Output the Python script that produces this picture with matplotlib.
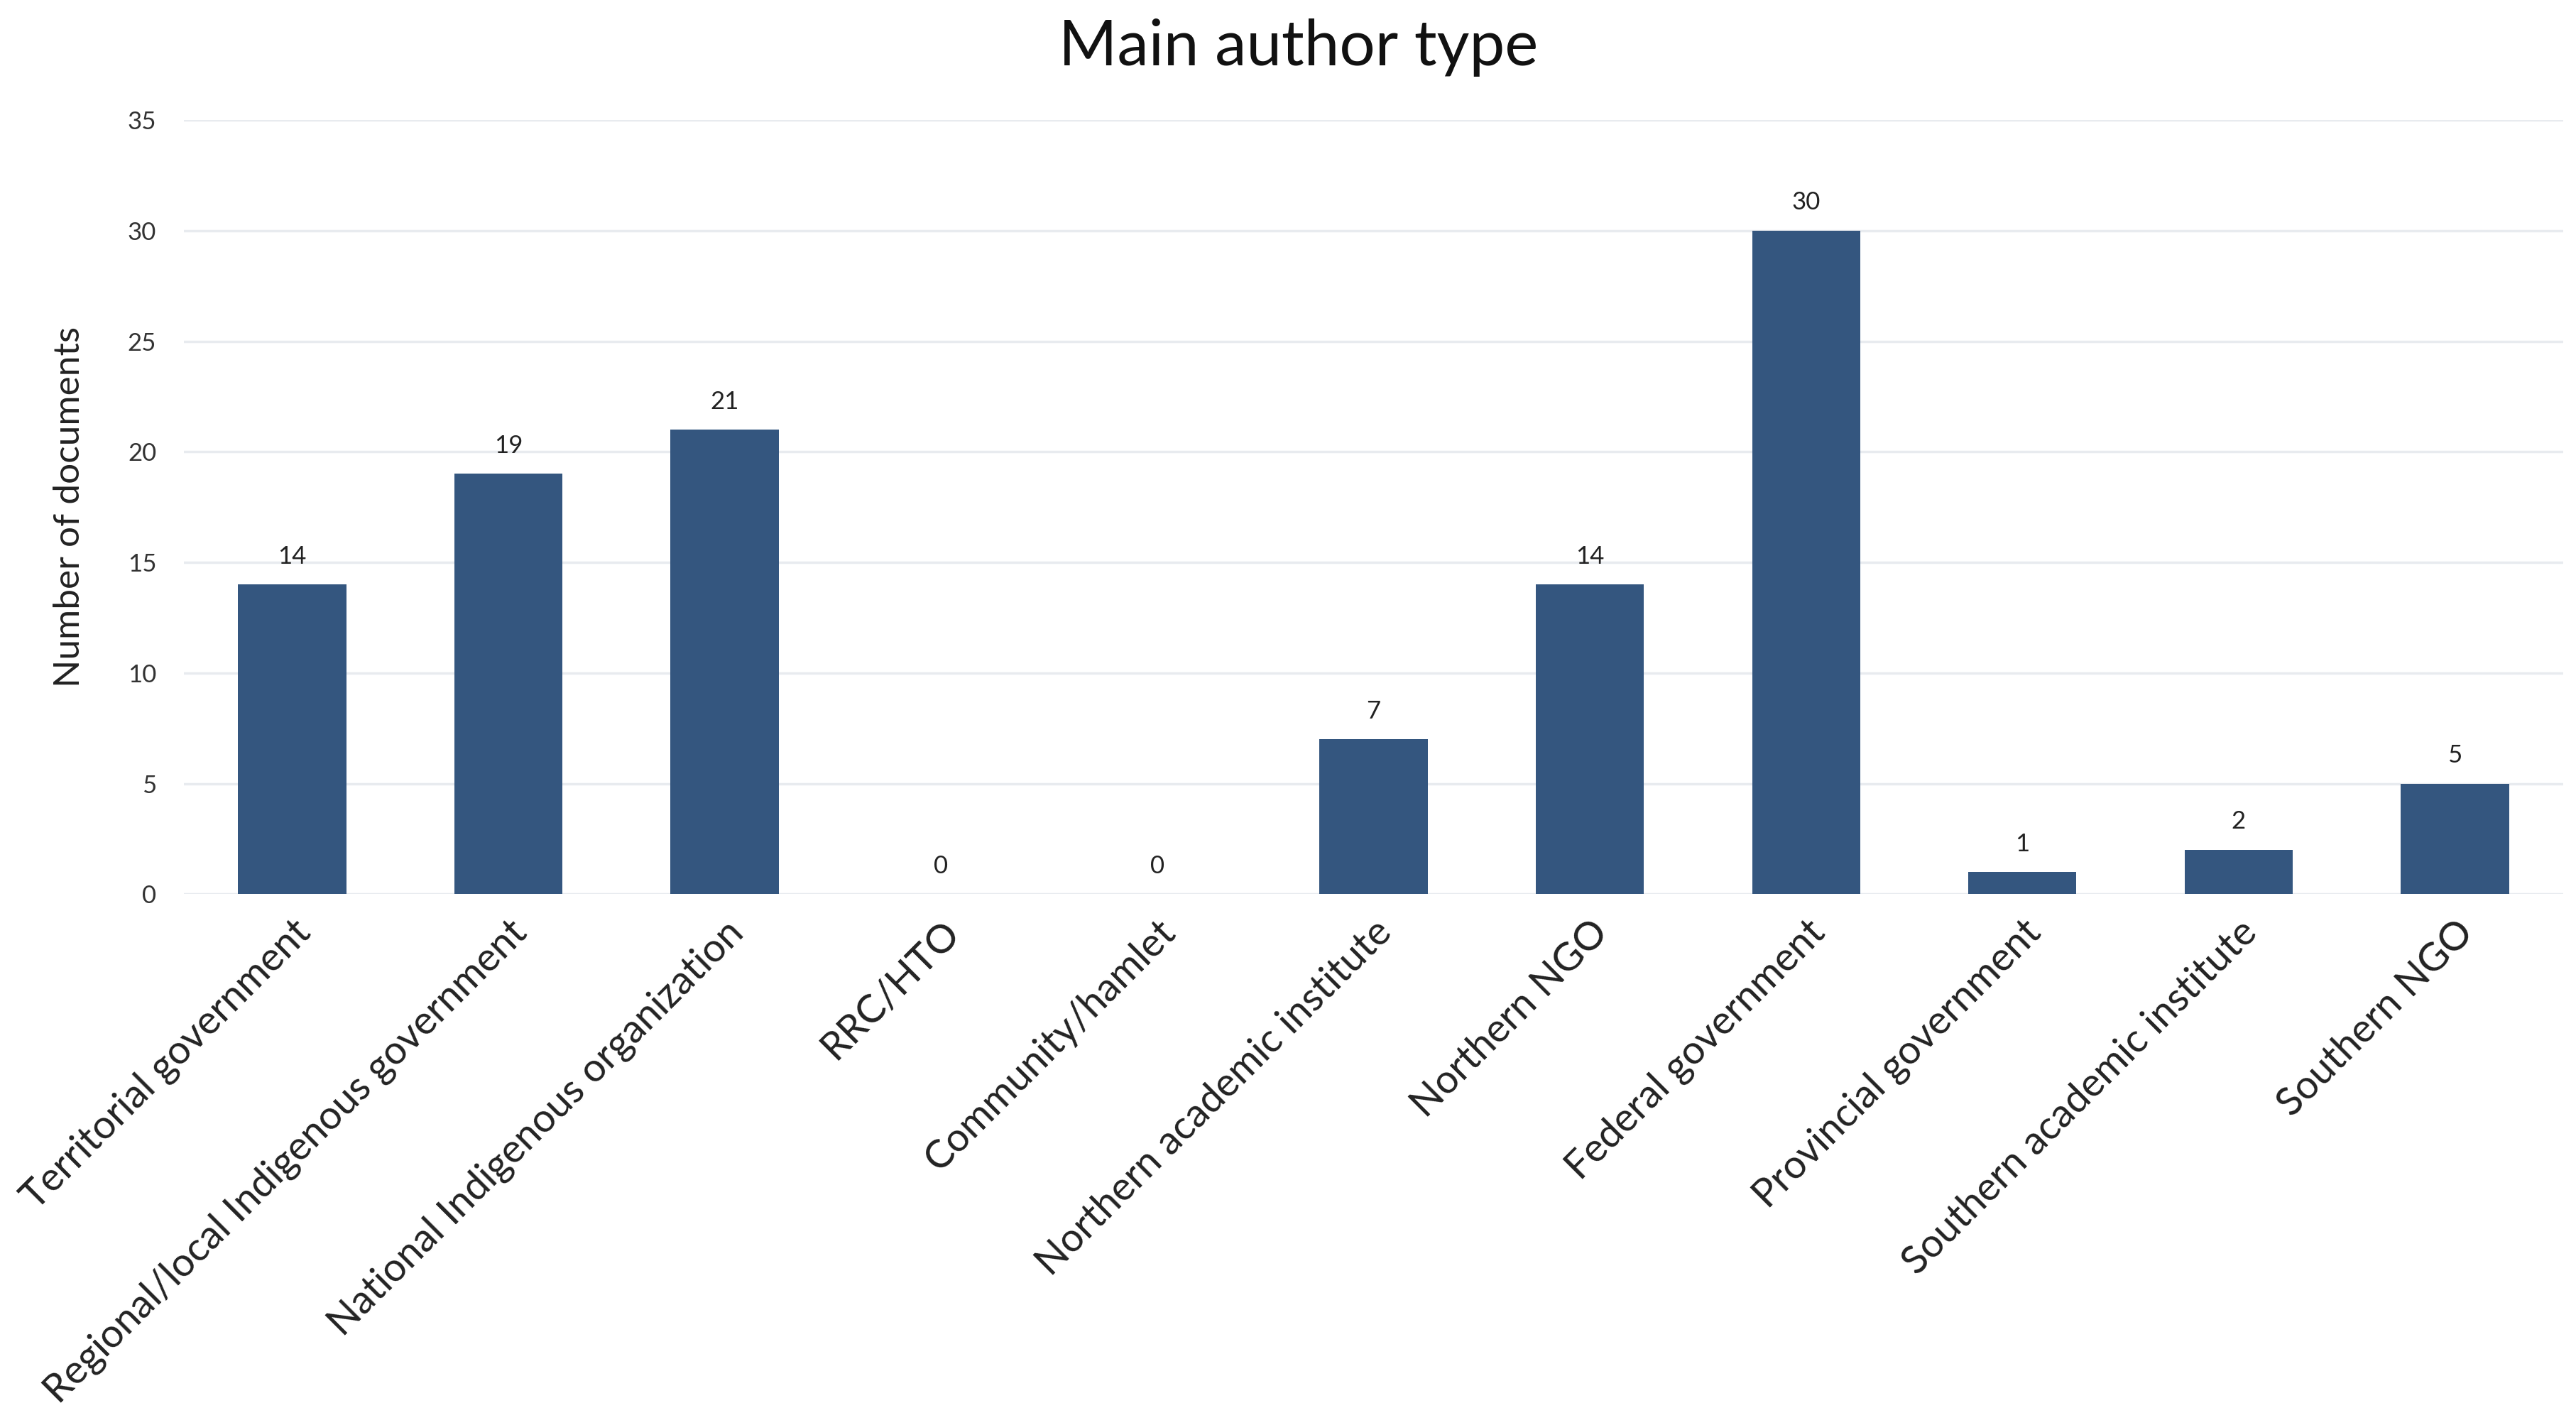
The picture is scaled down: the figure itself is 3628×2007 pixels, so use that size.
import matplotlib
matplotlib.use("Agg")
import matplotlib.pyplot as plt

categories = ["Territorial government", "Regional/local Indigenous government",
              "National Indigenous organization", "RRC/HTO", "Community/hamlet",
              "Northern academic institute", "Northern NGO", "Federal government",
              "Provincial government", "Southern academic institute", "Southern NGO"]
values = [14, 19, 21, 0, 0, 7, 14, 30, 1, 2, 5]
yticks = [0, 5, 10, 15, 20, 25, 30, 35]

plt.rcParams['font.family'] = ['Lato', 'DejaVu Sans']

fig = plt.figure(figsize=(36.28, 20.07), dpi=100)
ax = fig.add_axes([0.0714, 0.3725, 0.9236, 0.5433])

x = list(range(len(categories)))
bars = ax.bar(x, values, width=0.5, color="#34567F", zorder=3)
for xi, v in zip(x, values):
    ax.annotate(str(v), (xi, v), xytext=(0, 17), textcoords="offset points",
                ha="center", va="bottom", fontsize=25, color="#222222")

ax.set_xlim(-0.5, len(categories) - 0.5)
ax.set_ylim(0, 35)
ax.set_yticks(yticks)
ax.set_yticklabels([str(t) for t in yticks], fontsize=25, color="#333333")
ax.yaxis.grid(True, color="#E8EBEF", linewidth=2.5, zorder=0)
ax.set_axisbelow(True)
ax.tick_params(axis="y", length=0, pad=28)
ax.tick_params(axis="x", length=0, pad=20)
for s in ax.spines.values():
    s.set_visible(False)
ax.set_xticks(x)
ax.set_xticklabels(categories, rotation=45, ha="right", rotation_mode="anchor",
                   fontsize=40, color="#222222")
ax.set_ylabel("Number of documents", fontsize=37, color="#222222", labelpad=42)
fig.suptitle("Main author type", fontsize=64, color="#111111", x=0.504, y=0.987)

fig.savefig("out.png", dpi=100, facecolor="white")
